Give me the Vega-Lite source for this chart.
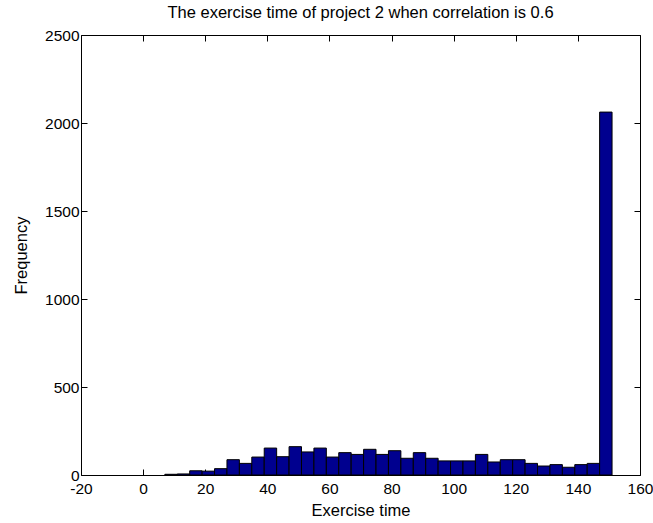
{
  "$schema": "https://vega.github.io/schema/vega-lite/v6.json",
  "width": 559,
  "height": 440,
  "autosize": {"type": "none"},
  "padding": {"left": 81, "top": 35, "right": 13, "bottom": 48},
  "background": "white",
  "title": {
    "text": "The exercise time of project 2 when correlation is 0.6",
    "font": "Liberation Sans",
    "fontSize": 16.5,
    "fontWeight": "normal",
    "color": "black",
    "offset": 7
  },
  "config": {
    "view": {"stroke": "black", "strokeWidth": 1},
    "axis": {
      "labelFont": "Liberation Sans",
      "labelFontSize": 15.5,
      "labelColor": "black",
      "titleFont": "Liberation Sans",
      "titleFontSize": 16.5,
      "titleFontWeight": "normal",
      "titleColor": "black",
      "grid": false,
      "domain": false,
      "tickColor": "black",
      "tickSize": -6,
      "labelFlush": false
    }
  },
  "data": {
    "values": [
      {"start": 7, "end": 11, "count": 4},
      {"start": 11, "end": 15, "count": 6},
      {"start": 15, "end": 19, "count": 24},
      {"start": 19, "end": 23, "count": 22},
      {"start": 23, "end": 27, "count": 36},
      {"start": 27, "end": 31, "count": 87},
      {"start": 31, "end": 35, "count": 66},
      {"start": 35, "end": 39, "count": 102},
      {"start": 39, "end": 43, "count": 153},
      {"start": 43, "end": 47, "count": 104},
      {"start": 47, "end": 51, "count": 161},
      {"start": 51, "end": 55, "count": 131},
      {"start": 55, "end": 59, "count": 153},
      {"start": 59, "end": 63, "count": 102},
      {"start": 63, "end": 67, "count": 127},
      {"start": 67, "end": 71, "count": 117},
      {"start": 71, "end": 75, "count": 146},
      {"start": 75, "end": 79, "count": 117},
      {"start": 79, "end": 83, "count": 138},
      {"start": 83, "end": 87, "count": 95},
      {"start": 87, "end": 91, "count": 127},
      {"start": 91, "end": 95, "count": 95},
      {"start": 95, "end": 99, "count": 80},
      {"start": 99, "end": 103, "count": 80},
      {"start": 103, "end": 107, "count": 80},
      {"start": 107, "end": 111, "count": 117},
      {"start": 111, "end": 115, "count": 74},
      {"start": 115, "end": 119, "count": 87},
      {"start": 119, "end": 123, "count": 87},
      {"start": 123, "end": 127, "count": 66},
      {"start": 127, "end": 131, "count": 51},
      {"start": 131, "end": 135, "count": 59},
      {"start": 135, "end": 139, "count": 44},
      {"start": 139, "end": 143, "count": 59},
      {"start": 143, "end": 147, "count": 66},
      {"start": 147, "end": 151, "count": 2062}
    ]
  },
  "layer": [
    {
      "mark": {"type": "bar", "color": "#00008F", "stroke": "black", "strokeWidth": 1},
      "encoding": {
        "x": {
          "field": "start",
          "type": "quantitative",
          "scale": {"domain": [-20, 160], "nice": false, "zero": false},
          "axis": {"title": "Exercise time", "values": [-20, 0, 20, 40, 60, 80, 100, 120, 140, 160], "labelPadding": 12, "titlePadding": 6, "labelExpr": "'' + datum.value"}
        },
        "x2": {"field": "end"},
        "y": {
          "field": "count",
          "type": "quantitative",
          "scale": {"domain": [0, 2500], "nice": false},
          "axis": {"title": "Frequency", "values": [0, 500, 1000, 1500, 2000, 2500], "labelPadding": 8, "titlePadding": 15, "labelExpr": "'' + datum.value"}
        },
        "y2": {"datum": 0}
      }
    },
    {
      "mark": {"type": "bar", "opacity": 0},
      "encoding": {
        "x": {
          "field": "start",
          "type": "quantitative",
          "axis": {"orient": "top", "labels": false, "title": null, "values": [-20, 0, 20, 40, 60, 80, 100, 120, 140, 160]}
        },
        "x2": {"field": "end"},
        "y": {
          "field": "count",
          "type": "quantitative",
          "axis": {"orient": "right", "labels": false, "title": null, "values": [0, 500, 1000, 1500, 2000, 2500]}
        },
        "y2": {"datum": 0}
      }
    }
  ],
  "resolve": {"axis": {"x": "independent", "y": "independent"}}
}
